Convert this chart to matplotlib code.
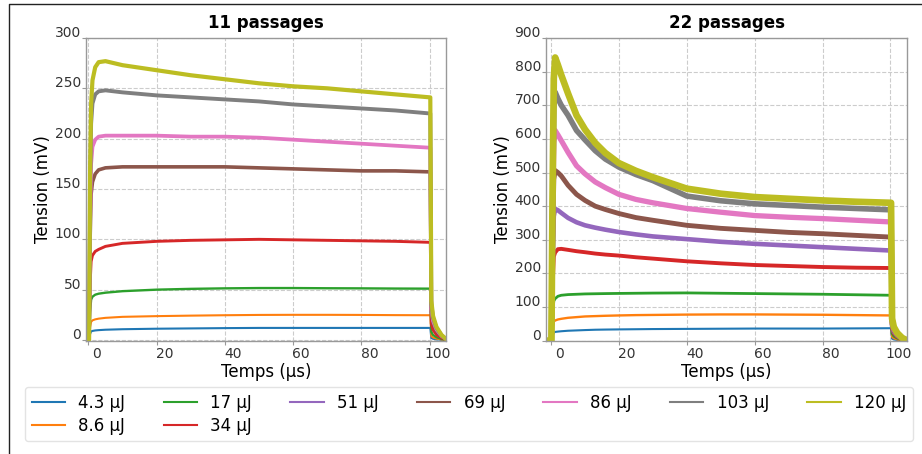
import matplotlib
matplotlib.use("Agg")
import matplotlib.pyplot as plt
import matplotlib.transforms as mtransforms
from matplotlib.lines import Line2D

# ---------------- data ----------------
labels = ["4.3 µJ", "8.6 µJ", "17 µJ", "34 µJ", "51 µJ", "69 µJ", "86 µJ", "103 µJ", "120 µJ"]
colors = ["#1f77b4", "#ff7f0e", "#2ca02c", "#d62728", "#9467bd", "#8c564b", "#e377c2", "#7f7f7f", "#bcbd22"]

# 11 passages (no 51 µJ curve)
t_left = [-0.7, 0.2, 0.5, 0.8, 1.2, 2, 3, 5, 10, 20, 30, 40, 50, 60, 70, 80, 90,
          100.2, 100.5, 101, 102, 103.5, 104.8]
left_4_3 = [0, 0, 6, 8.5, 9, 9.5, 9.8, 10.2, 10.7, 11.2, 11.5, 11.8, 12, 12, 12, 12, 12, 12, 2, 1.2, 0.7, 0.2, 0]
left_8_6 = [0, 0, 13, 18, 19.5, 20.5, 21.2, 22, 23, 23.7, 24.2, 24.6, 24.9, 25, 25, 24.9, 24.7, 24.6, 4, 2.5, 1.4, 0.5, 0.1]
left_17 = [0, 0, 28, 40, 43, 45, 46, 47, 48.5, 50, 50.8, 51.3, 51.6, 51.6, 51.4, 51.3, 51.1, 51, 8, 5, 2.8, 1, 0.2]
left_34 = [0, 0, 55, 78, 84, 88, 90, 93, 96, 98, 99, 99.5, 100, 99.5, 99, 98.5, 98, 97, 16, 10, 5.3, 2, 0.4]
left_69 = [0, 0, 100, 145, 157, 165, 169, 171, 172, 172, 172, 172, 171, 170, 169, 168, 168, 167, 27, 17, 9, 3.5, 0.7]
left_86 = [0, 0, 120, 175, 192, 199, 202, 203, 203, 203, 202, 202, 201, 199, 197, 195, 193, 191, 31, 19, 10.5, 4, 1]
left_103 = [0, 0, 150, 215, 235, 244, 247, 248, 246, 243, 241, 239, 237, 234, 232, 230, 228, 225, 36, 22, 12, 4.5, 1]
left_120 = [0, 0, 170, 235, 258, 271, 276, 277, 273, 268, 263, 259, 255, 252, 250, 247, 244, 241, 39, 24, 13, 5, 1]

# 22 passages
t_right = [-1.5, 0.1, 0.4, 0.8, 1.2, 2, 3, 5, 7.5, 10, 13, 16, 20, 25, 30, 40, 50, 60, 70, 80, 90,
           100.2, 100.5, 101, 102, 103.5, 104.8]
right_4_3 = [0, 0, 14, 24, 26, 27, 28, 29.5, 30.5, 31.5, 32.5, 33, 33.5, 34, 34.5, 35, 35.5, 36, 36, 36, 36.5, 37, 6, 3.7, 2, 0.7, 0.1]
right_8_6 = [0, 0, 35, 57, 60, 63, 65, 68, 70, 72, 73, 74, 75, 76, 76.5, 77.5, 78, 78, 77.5, 77, 76, 75, 12, 7.5, 4, 1.5, 0.3]
right_17 = [0, 0, 70, 118, 125, 132, 135, 137, 138, 139, 139.5, 140, 140.5, 141, 141.5, 142, 141, 140, 139, 138, 136.5, 135, 22, 13.5, 7.4, 2.7, 0.5]
right_34 = [0, 0, 150, 250, 262, 272, 273, 270, 266, 263, 259, 256, 253, 248, 244, 236, 230, 225, 222, 219, 217, 216, 35, 22, 12, 4, 0.9]
right_51 = [0, 0, 200, 370, 392, 388, 380, 365, 352, 343, 336, 330, 323, 316, 310, 302, 294, 288, 283, 278, 273, 268, 43, 27, 15, 5, 1]
right_69 = [0, 0, 250, 480, 506, 500, 490, 462, 435, 417, 400, 390, 378, 366, 358, 343, 334, 328, 322, 318, 313, 308, 49, 31, 17, 6, 1.2]
right_86 = [0, 0, 300, 590, 625, 612, 595, 560, 520, 496, 472, 455, 435, 420, 410, 393, 382, 372, 367, 363, 358, 353, 56, 35, 19, 7, 1.4]
right_103 = [0, 0, 350, 690, 739, 720, 700, 670, 625, 597, 565, 540, 516, 494, 476, 430, 416, 407, 402, 397, 393, 389, 62, 39, 21, 8, 1.5]
right_120 = [0, 0, 400, 780, 842, 820, 790, 735, 670, 628, 588, 558, 528, 505, 486, 452, 437, 427, 422, 417, 413, 410, 66, 41, 23, 8, 1.6]

left_series = [(0, left_4_3), (1, left_8_6), (2, left_17), (3, left_34),
               (5, left_69), (6, left_86), (7, left_103), (8, left_120)]
right_series = [(0, right_4_3), (1, right_8_6), (2, right_17), (3, right_34), (4, right_51),
                (5, right_69), (6, right_86), (7, right_103), (8, right_120)]

left_lw = {0: 1.5, 1: 1.5, 2: 1.7, 3: 2.1, 5: 2.6, 6: 2.7, 7: 2.8, 8: 3.0}
right_lw = {0: 1.5, 1: 1.7, 2: 2.0, 3: 2.8, 4: 3.3, 5: 3.5, 6: 3.8, 7: 4.0, 8: 4.8}

# ---------------- figure ----------------
W, H = 922, 454
fig = plt.figure(figsize=(W / 100, H / 100), dpi=100)

axL = fig.add_axes([86 / W, 1 - 341 / H, 360 / W, 303 / H])
axR = fig.add_axes([546 / W, 1 - 341 / H, 361 / W, 303 / H])

for idx, y in left_series:
    axL.plot(t_left, y, color=colors[idx], lw=left_lw[idx], solid_joinstyle="round")
for idx, y in right_series:
    axR.plot(t_right, y, color=colors[idx], lw=right_lw[idx], solid_joinstyle="round")

axL.set_xlim(-0.7, 104.8)
axL.set_ylim(-1, 300)
axL.set_yticks([0, 50, 100, 150, 200, 250, 300])
axR.set_xlim(-1.5, 104.9)
axR.set_ylim(-1, 900)
axR.set_yticks(range(0, 901, 100))

for ax, title in [(axL, "11 passages"), (axR, "22 passages")]:
    ax.set_xticks([0, 20, 40, 60, 80, 100])
    ax.set_title(title, fontsize=12, fontweight="bold", pad=7)
    ax.set_xlabel("Temps (µs)", fontsize=12, labelpad=2)
    ax.set_ylabel("Tension (mV)", fontsize=12, labelpad=2)
    ax.grid(True, ls="--", color="#cccccc", lw=0.8)
    ax.set_axisbelow(True)
    for s in ax.spines.values():
        s.set_color("#999999")
        s.set_linewidth(1.0)
    ax.tick_params(axis="both", labelsize=10, length=3, color="#999999", labelcolor="#333333")
    for lab in ax.get_xticklabels():
        lab.set_transform(lab.get_transform() +
                          mtransforms.ScaledTranslation(8 / 100, 3.5 / 100, fig.dpi_scale_trans))
    for lab in ax.get_yticklabels():
        lab.set_transform(lab.get_transform() +
                          mtransforms.ScaledTranslation(4 / 100, 6.5 / 100, fig.dpi_scale_trans))

handles = [Line2D([], [], color=c, lw=1.5) for c in colors]
fig.legend(handles, labels, ncol=7, mode="expand", loc="upper left",
           bbox_to_anchor=(25 / W, 0.0, 888 / W, 1 - 387 / H), borderaxespad=0,
           fontsize=12, labelspacing=0.3, handlelength=2.0, handletextpad=0.8,
           frameon=True, edgecolor="#dddddd")

# figure border (top and left)
fig.add_artist(Line2D([9 / W, 9 / W, 1], [0, 1 - 4 / H, 1 - 4 / H],
                      transform=fig.transFigure, color="#222222", lw=1.0))

fig.savefig("out.png", dpi=100)
